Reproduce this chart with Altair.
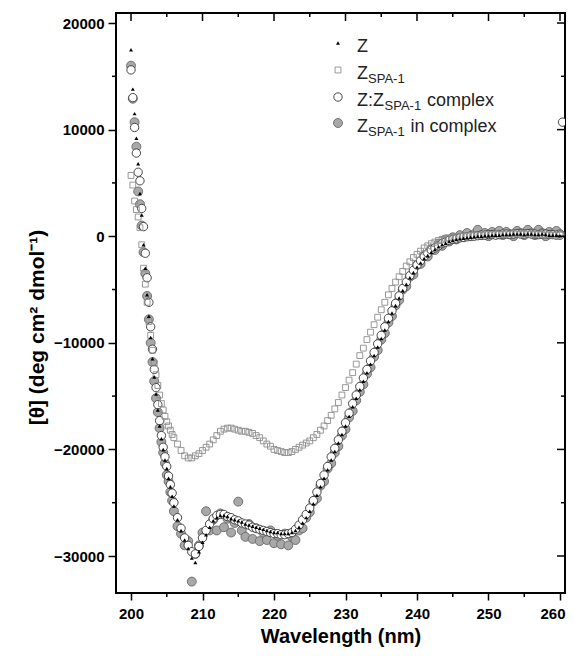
import altair as alt
import pandas as pd

# wavelength grid (nm)
wl = [200.0, 200.25, 200.5, 200.75, 201.0, 201.25, 201.5, 201.75, 202.0, 202.25,
      202.5, 202.75, 203.0, 203.25, 203.5, 203.75, 204.0, 204.25, 204.5, 204.75,
      205.0, 205.25, 205.5, 205.75, 206.0,
      206.5, 207.0, 207.5, 208.0, 208.5, 209.0, 209.5, 210.0, 210.5, 211.0,
      211.5, 212.0, 212.5, 213.0, 213.5, 214.0, 214.5, 215.0, 215.5, 216.0,
      216.5, 217.0, 217.5, 218.0, 218.5, 219.0, 219.5, 220.0, 220.5, 221.0,
      221.5, 222.0, 222.5, 223.0, 223.5, 224.0, 224.5, 225.0, 225.5, 226.0,
      226.5, 227.0, 227.5, 228.0, 228.5, 229.0, 229.5, 230.0, 230.5, 231.0,
      231.5, 232.0, 232.5, 233.0, 233.5, 234.0, 234.5, 235.0, 235.5, 236.0,
      236.5, 237.0, 237.5, 238.0, 238.5, 239.0, 239.5, 240.0, 240.5, 241.0,
      241.5, 242.0, 242.5, 243.0, 243.5, 244.0, 244.5, 245.0, 245.5, 246.0,
      246.5, 247.0, 247.5, 248.0, 248.5, 249.0, 249.5, 250.0, 250.5, 251.0,
      251.5, 252.0, 252.5, 253.0, 253.5, 254.0, 254.5, 255.0, 255.5, 256.0,
      256.5, 257.0, 257.5, 258.0, 258.5, 259.0, 259.5, 260.0]

# Z (black triangles)
z_vals = [17500, 13800, 11500, 9200, 6800, 4000, 2000, -800, -3000, -5500,
          -7500, -9500, -11500, -13200, -14800, -16300, -17800, -19000, -20000, -21000,
          -21800, -22700, -23500, -24400, -25300,
          -26600, -27600, -28500, -29300, -30200, -30600, -29600, -28700, -28000, -27300,
          -26700, -26400, -26200, -26200, -26300, -26500, -26600, -26700, -26800, -27000,
          -27100, -27200, -27300, -27400, -27500, -27600, -27700, -27800, -27800, -27900,
          -27900, -27900, -27800, -27600, -27300, -26900, -26400, -25800, -25100, -24300,
          -23500, -22700, -21900, -21000, -20200, -19400, -18600, -17800, -16900, -16000,
          -15200, -14400, -13600, -12800, -12000, -11200, -10400, -9600, -8800, -8000,
          -7200, -6500, -5800, -5100, -4500, -3900, -3400, -2900, -2500, -2100,
          -1800, -1500, -1250, -1000, -800, -650, -500, -400, -300, -250,
          -200, -150, -100, -50, 0, 0, 50, 50, 100, 100,
          100, 150, 150, 150, 200, 200, 200, 150, 200, 200,
          150, 150, 200, 150, 100, 100, 100, 50]

# Z_SPA-1 (open grey squares)
zspa_vals = [5700, 4800, 3300, 2500, 1800, 800, -800, -3000, -4500, -6200,
             -8000, -9300, -10700, -11900, -13000, -14000, -14900, -15700, -16300, -16900,
             -17400, -17800, -18200, -18600, -18900,
             -19500, -20100, -20600, -20800, -20800, -20600, -20400, -20100, -19800, -19500,
             -19100, -18700, -18300, -18100, -18000, -18000, -18100, -18200, -18300, -18300,
             -18400, -18500, -18700, -18900, -19200, -19500, -19700, -20000, -20100, -20200,
             -20300, -20300, -20200, -20000, -19800, -19600, -19400, -19200, -18900, -18600,
             -18200, -17800, -17300, -16800, -16200, -15600, -14900, -14200, -13500, -12800,
             -12000, -11200, -10500, -9700, -9000, -8300, -7600, -6900, -6200, -5500,
             -4900, -4300, -3800, -3300, -2800, -2400, -2000, -1700, -1400, -1100,
             -900, -700, -550, -400, -300, -200, -150, -100, -50, 0,
             0, 50, 50, 100, 100, 100, 150, 150, 150, 200,
             200, 150, 200, 200, 250, 200, 200, 250, 200, 200,
             150, 200, 150, 100, 150, 100, 100, 100]

# Z:Z_SPA-1 complex (open circles)
cplx_vals = [15600, 13000, 10200, 7800, 6000, 5200, 2600, 900, -1600, -3900,
             -6200, -8500, -10600, -12500, -14200, -15800, -17300, -18700, -19800, -20700,
             -21600, -22500, -23300, -24100, -25000,
             -26400, -27400, -28300, -29000, -29600, -29800, -29100, -28300, -27600, -27000,
             -26500, -26200, -26100, -26100, -26300, -26400, -26600, -26700, -26900, -27000,
             -27100, -27300, -27400, -27500, -27600, -27700, -27800, -27900, -27900, -28000,
             -28000, -27900, -27800, -27500, -27100, -26600, -26100, -25500, -24800, -24000,
             -23200, -22400, -21600, -20700, -19900, -19100, -18300, -17500, -16600, -15700,
             -14900, -14100, -13300, -12500, -11700, -10900, -10100, -9300, -8500, -7700,
             -7000, -6300, -5600, -4900, -4300, -3700, -3200, -2700, -2300, -1900,
             -1600, -1300, -1100, -900, -700, -550, -400, -300, -250, -150,
             -100, -50, 0, 0, 50, 100, 100, 150, 150, 100,
             150, 200, 200, 150, 200, 250, 200, 200, 250, 200,
             200, 150, 200, 200, 150, 150, 100, 100]

# Z_SPA-1 in complex (grey filled circles)
inc_vals = [16000, 12900, 10700, 8400, 4200, 3000, 1000, -1500, -3500, -5600,
            -7800, -10000, -11800, -13600, -15200, -16500, -18000, -19300, -20300, -21300,
            -22400, -23000, -24000, -24800, -25800,
            -27200, -27900, -29000, -28600, -32400, -29800, -29000, -27800, -25800, -27600,
            -26600, -27600, -26000, -27300, -26500, -27800, -26900, -24900, -27600, -28200,
            -27000, -28400, -27400, -28600, -27800, -28500, -27600, -28800, -28100, -28900,
            -27900, -29000, -28200, -28500, -27600, -27400, -26400, -25900, -24900, -24600,
            -23400, -23000, -21800, -21300, -20300, -19700, -18700, -18100, -17000, -16400,
            -15400, -14600, -13900, -12900, -12300, -11300, -10700, -9700, -9100, -8100,
            -7500, -6500, -6000, -5000, -4700, -3800, -3600, -2700, -2600, -1800,
            -1900, -1200, -1300, -700, -900, -300, -500, -100, -300, 100,
            -100, 300, 0, 200, 600, 100, 300, 0, 400, 200,
            500, 100, 400, 200, 0, 500, 300, 100, 600, 300,
            100, 600, 300, 0, 400, 200, 500, 200]

# stray open-circle point at the right edge
stray_wl = [260.35]
stray_val = [10700]

for s in (z_vals, zspa_vals, cplx_vals, inc_vals):
    assert len(s) == len(wl), len(s)

x_major = [200, 210, 220, 230, 240, 250, 260]
x_minor = [205, 215, 225, 235, 245, 255]
y_major = [-30000, -20000, -10000, 0, 10000, 20000]
y_minor = [-25000, -15000, -5000, 5000, 15000]

W, H = 449, 580
FONT = "Liberation Sans"
XDOM = [197.9, 260.7]
YDOM = [-33470, 20940]

xs = alt.Scale(domain=XDOM, nice=False, zero=False)
ys = alt.Scale(domain=YDOM, nice=False, zero=False)

X = alt.X("wl:Q", scale=xs,
          axis=alt.Axis(values=x_major, format="d", tickSize=7, tickWidth=1.5,
                        tickColor="black", domain=False, grid=False,
                        labelFont=FONT, labelFontSize=15, labelFontWeight="bold",
                        labelColor="black", labelPadding=6,
                        labelFlush=8, labelFlushOffset=5,
                        title="Wavelength (nm)", titleFont=FONT, titleFontSize=20,
                        titleFontWeight="bold", titleColor="black",
                        titleBaseline="top", titleY=33))
Y = alt.Y("v:Q", scale=ys,
          axis=alt.Axis(values=y_major, format="d", tickSize=8, tickWidth=1.5,
                        tickColor="black", domain=False, grid=False,
                        labelFont=FONT, labelFontSize=15, labelFontWeight="bold",
                        labelColor="black", labelPadding=4,
                        title="[θ] (deg cm² dmol⁻¹)", titleFont=FONT, titleFontSize=21,
                        titleFontWeight="bold", titleColor="black",
                        titleX=-69, titleY=314, titleAngle=-90, titleBaseline="bottom"))


def series(vals, wls=None):
    return pd.DataFrame({"wl": wls if wls is not None else wl, "v": vals})


grey_pts = alt.Chart(series(inc_vals)).mark_point(
    shape="circle", filled=True, fill="#a8a8a8", stroke="#686868",
    strokeWidth=0.9, size=80, opacity=1).encode(x=X, y=Y)
open_pts = alt.Chart(pd.concat([series(cplx_vals), series(stray_val, stray_wl)])).mark_point(
    shape="circle", filled=True, fill="white", stroke="#333333",
    strokeWidth=0.9, size=70, opacity=1, clip=True).encode(x=X, y=Y)
sq_pts = alt.Chart(series(zspa_vals)).mark_point(
    shape="square", filled=False, color="#8c8c8c", strokeWidth=0.9,
    size=34, opacity=1).encode(x=X, y=Y)
tri_pts = alt.Chart(series(z_vals)).mark_point(
    shape="triangle-up", filled=True, color="black", size=16,
    opacity=1).encode(x=X, y=Y)


def xticks(vals, y0, y1):
    return alt.Chart(pd.DataFrame({"wl": vals})).mark_rule(
        color="black", strokeWidth=1.5).encode(
        x=X, y=alt.value(y0), y2=alt.value(y1))


def yticks(vals, x0, x1):
    return alt.Chart(pd.DataFrame({"v": vals})).mark_rule(
        color="black", strokeWidth=1.5).encode(
        y=Y, x=alt.value(x0), x2=alt.value(x1))


ticks = [
    xticks(x_minor, H, H + 4),
    xticks(x_major, 0, 8), xticks(x_minor, 0, 4),
    yticks(y_minor, 0, -4),
    yticks(y_major, W, W - 8), yticks(y_minor, W, W - 4),
]

one = pd.DataFrame({"a": [0]})
LX, TX = 222, 241
rows = [30, 57, 84, 110]


def lsym(yrow, **kw):
    return alt.Chart(one).mark_point(opacity=1, **kw).encode(
        x=alt.value(LX), y=alt.value(yrow))


def ltext(txt, x, y, size=18):
    return alt.Chart(one).mark_text(
        text=txt, align="left", baseline="alphabetic", font=FONT,
        fontSize=size, color="#222222").encode(x=alt.value(x), y=alt.value(y))


SUB = 13
legend = [
    lsym(rows[0], shape="triangle-up", filled=True, color="black", size=16),
    ltext("Z", TX, rows[0] + 8.5),
    lsym(rows[1], shape="square", filled=False, color="#8c8c8c", size=34, strokeWidth=0.9),
    ltext("Z", TX, rows[1] + 8.5),
    ltext("SPA-1", TX + 11, rows[1] + 12.5, SUB),
    lsym(rows[2], shape="circle", filled=True, fill="white", stroke="#333333",
         size=70, strokeWidth=0.9),
    ltext("Z:Z", TX, rows[2] + 8.5),
    ltext("SPA-1", TX + 27.5, rows[2] + 12.5, SUB),
    ltext("complex", TX + 70, rows[2] + 8.5),
    lsym(rows[3], shape="circle", filled=True, fill="#a8a8a8", stroke="#686868",
         size=80, strokeWidth=0.9),
    ltext("Z", TX, rows[3] + 8.5),
    ltext("SPA-1", TX + 11, rows[3] + 12.5, SUB),
    ltext("in complex", TX + 53.5, rows[3] + 8.5),
]

chart = alt.layer(grey_pts, open_pts, sq_pts, tri_pts, *ticks, *legend).properties(
    width=W, height=H,
    autosize=alt.AutoSizeParams(type="none"),
    padding={"left": 108, "top": 5, "right": 2, "bottom": 55},
    background="white",
).configure_view(stroke="black", strokeWidth=2)

chart.save("out.html", embed_options={"renderer": "svg", "actions": False})
